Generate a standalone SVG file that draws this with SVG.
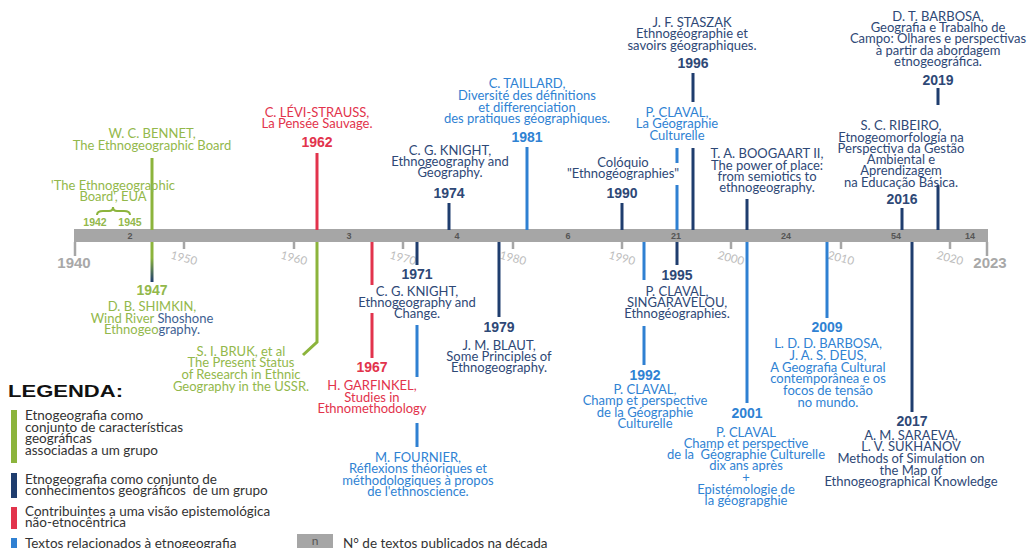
<svg xmlns="http://www.w3.org/2000/svg" width="1033" height="548" viewBox="0 0 1033 548">
<style>
.t{font-family:Lato,"Open Sans",sans-serif;font-size:13px;text-anchor:middle}
.yr{font-family:"Liberation Sans",Arial,sans-serif;font-weight:bold;font-size:14px;text-anchor:middle}
.g{fill:#93b84b}.r{fill:#e2334c}.b{fill:#2f82d3}.n{fill:#2e4876}
.sg{stroke:#8cb43c}.sr{stroke:#e2334c}.sb{stroke:#2f80d2}.sn{stroke:#1f3d6e}
.c path{fill:none;stroke-width:3}
.tk{stroke:#a6a6a6;stroke-width:2.5;fill:none}
.tl{font-family:Lato,sans-serif;font-size:11.5px;fill:#bdbdbd;text-anchor:middle}
.big{font-family:"Liberation Sans",Arial,sans-serif;font-weight:bold;font-size:15px;fill:#a8a8a8;text-anchor:middle}
.dn{font-family:"Liberation Sans",Arial,sans-serif;font-weight:bold;font-size:9px;fill:#555;text-anchor:middle}
.lg{font-family:Lato,"Open Sans",sans-serif;font-size:13.5px;fill:#333}
</style>
<defs>
<linearGradient id="gb" x1="0" y1="242" x2="0" y2="282" gradientUnits="userSpaceOnUse">
<stop offset="0.4" stop-color="#8cb43c"/><stop offset="1" stop-color="#1f3d6e"/>
</linearGradient>
</defs>

<g id="timeline">
<rect x="74" y="229" width="914" height="13" fill="#a6a6a6"/>
<path class="tk" d="M75 242V256M987 242V256M184 242V249M294 242V249M403 242V249M513 242V249M622 242V249M731 242V249M841 242V249M950 242V249"/>
<text class="big" x="74" y="268">1940</text>
<text class="big" x="990" y="268">2023</text>
<text class="tl" x="184" y="262" transform="rotate(15 184 258)">1950</text>
<text class="tl" x="294" y="262" transform="rotate(15 294 258)">1960</text>
<text class="tl" x="403" y="262" transform="rotate(15 403 258)">1970</text>
<text class="tl" x="513" y="262" transform="rotate(15 513 258)">1980</text>
<text class="tl" x="622" y="262" transform="rotate(15 622 258)">1990</text>
<text class="tl" x="731" y="262" transform="rotate(15 731 258)">2000</text>
<text class="tl" x="841" y="262" transform="rotate(15 841 258)">2010</text>
<text class="tl" x="950" y="262" transform="rotate(15 950 258)">2020</text>
<text class="dn" x="130" y="238.5">2</text>
<text class="dn" x="349" y="238.5">3</text>
<text class="dn" x="457" y="238.5">4</text>
<text class="dn" x="568" y="238.5">6</text>
<text class="dn" x="676" y="238.5">21</text>
<text class="dn" x="786" y="238.5">24</text>
<text class="dn" x="896" y="238.5">54</text>
<text class="dn" x="970" y="238.5">14</text>
</g>

<g id="connectors" class="c">
<path class="sg" d="M152 158V230"/>
<path d="M152 242V282" stroke="url(#gb)"/>
<path class="sr" d="M317 153V230"/>
<path class="sg" d="M317 242V342L303 355"/>
<path class="sr" d="M372 242V285M372 313V358"/>
<path class="sn" d="M417 242V265"/>
<path class="sb" d="M417 325V377M417 423V447"/>
<path class="sn" d="M449 203V230"/>
<path class="sn" d="M499 242V317"/>
<path class="sb" d="M527 147V230"/>
<path class="sn" d="M622 203V230"/>
<path class="sb" d="M677 148V163M677 185V230"/>
<path class="sn" d="M693 73V102M693 148V230"/>
<path class="sb" d="M644 242V280M644 326V365"/>
<path class="sn" d="M677 242V265"/>
<path class="sn" d="M747 199V230"/>
<path class="sb" d="M747 242V403"/>
<path class="sb" d="M827 242V318"/>
<path class="sn" d="M902 208V230"/>
<path class="sn" d="M938 88V105M938 185V230"/>
<path class="sn" d="M912 242V412"/>
</g>

<g id="bennet">
<text class="t g" x="152" y="138">W. C. BENNET,</text>
<text class="t g" x="152" y="150">The Ethnogeographic Board</text>
</g>
<g id="board">
<text class="t g" x="113" y="190">'The Ethnogeographic</text>
<text class="t g" x="113" y="201">Board', EUA</text>
<path d="M97 215Q97 211 103 211H109Q113 211 113 207Q113 211 117 211H124Q130 211 130 215" fill="none" stroke="#8cb43c" stroke-width="2"/>
<text class="yr g" x="95" y="226" style="font-size:10.5px">1942</text>
<text class="yr g" x="130" y="226" style="font-size:10.5px">1945</text>
</g>
<g id="shimkin">
<text class="yr g" x="152" y="295">1947</text>
<text class="t g" x="152" y="311">D. B. SHIMKIN,</text>
<text class="t g" x="152" y="323">Wind River <tspan fill="#3e5f92">Shoshone</tspan></text>
<text class="t g" x="152" y="334">Ethnogeo<tspan fill="#3e5f92">graphy.</tspan></text>
</g>
<g id="levi-strauss">
<text class="t r" x="317" y="117">C. LÉVI-STRAUSS,</text>
<text class="t r" x="317" y="128">La Pensée Sauvage.</text>
<text class="yr r" x="317" y="147">1962</text>
</g>
<g id="bruk">
<text class="t g" x="241" y="356">S. I. BRUK, et al</text>
<text class="t g" x="241" y="367">The Present Status</text>
<text class="t g" x="241" y="379">of Research in Ethnic</text>
<text class="t g" x="241" y="391">Geography in the USSR.</text>
</g>
<g id="garfinkel">
<text class="yr r" x="372" y="372">1967</text>
<text class="t r" x="372" y="390">H. GARFINKEL,</text>
<text class="t r" x="372" y="402">Studies in</text>
<text class="t r" x="372" y="413">Ethnomethodology</text>
</g>
<g id="knight1971">
<text class="yr n" x="417" y="279">1971</text>
<text class="t n" x="417" y="296">C. G. KNIGHT,</text>
<text class="t n" x="417" y="307">Ethnogeography and</text>
<text class="t n" x="417" y="318">Change.</text>
</g>
<g id="fournier">
<text class="t b" x="418" y="462">M. FOURNIER,</text>
<text class="t b" x="418" y="473">Réflexions théoriques et</text>
<text class="t b" x="418" y="485">méthodologiques à propos</text>
<text class="t b" x="418" y="496">de l'ethnoscience.</text>
</g>
<g id="knight1974">
<text class="t n" x="450" y="155">C. G. KNIGHT,</text>
<text class="t n" x="450" y="166">Ethnogeography and</text>
<text class="t n" x="450" y="177">Geography.</text>
<text class="yr n" x="449" y="198">1974</text>
</g>
<g id="blaut">
<text class="yr n" x="499" y="332">1979</text>
<text class="t n" x="499" y="350">J. M. BLAUT,</text>
<text class="t n" x="499" y="361">Some Principles of</text>
<text class="t n" x="499" y="372">Ethnogeography.</text>
</g>
<g id="taillard">
<text class="t b" x="527" y="88">C. TAILLARD,</text>
<text class="t b" x="527" y="100">Diversité des définitions</text>
<text class="t b" x="527" y="112">et differenciation</text>
<text class="t b" x="527" y="123">des pratiques géographiques.</text>
<text class="yr b" x="527" y="142">1981</text>
</g>
<g id="coloquio">
<text class="t n" x="623" y="167">Colóquio</text>
<text class="t n" x="623" y="178">"Ethnogéographies"</text>
<text class="yr n" x="622" y="198">1990</text>
</g>
<g id="claval-gc">
<text class="t b" x="677" y="117">P. CLAVAL,</text>
<text class="t b" x="677" y="128">La Géographie</text>
<text class="t b" x="677" y="140">Culturelle</text>
</g>
<g id="claval1992">
<text class="yr b" x="645" y="380">1992</text>
<text class="t b" x="645" y="394">P. CLAVAL,</text>
<text class="t b" x="645" y="405">Champ et perspective</text>
<text class="t b" x="645" y="417">de la Géographie</text>
<text class="t b" x="645" y="428">Culturelle</text>
</g>
<g id="claval1995">
<text class="yr n" x="677" y="280">1995</text>
<text class="t n" x="677" y="296">P. CLAVAL,</text>
<text class="t n" x="677" y="307">SINGARAVELOU,</text>
<text class="t n" x="677" y="318">Ethnogéographies.</text>
</g>
<g id="staszak">
<text class="t n" x="692" y="27">J. F. STASZAK</text>
<text class="t n" x="692" y="38">Ethnogéographie et</text>
<text class="t n" x="692" y="50">savoirs géographiques.</text>
<text class="yr n" x="693" y="68">1996</text>
</g>
<g id="boogaart">
<text class="t n" x="767" y="158">T. A. BOOGAART II,</text>
<text class="t n" x="767" y="170">The power of place:</text>
<text class="t n" x="767" y="181">from semiotics to</text>
<text class="t n" x="767" y="192">ethnogeography.</text>
</g>
<g id="claval2001">
<text class="yr b" x="747" y="418">2001</text>
<text class="t b" x="746" y="437">P. CLAVAL</text>
<text class="t b" x="746" y="448">Champ et perspective</text>
<text class="t b" x="746" y="459" xml:space="preserve">de la  Géographie Culturelle</text>
<text class="t b" x="746" y="470">dix ans après</text>
<text class="t b" x="746" y="482">+</text>
<text class="t b" x="746" y="494">Epistémologie de</text>
<text class="t b" x="746" y="505">la géograpghie</text>
</g>
<g id="barbosa2009">
<text class="yr b" x="827" y="332">2009</text>
<text class="t b" x="828" y="348">L. D. D. BARBOSA,</text>
<text class="t b" x="828" y="360">J. A. S. DEUS,</text>
<text class="t b" x="828" y="372">A Geografia Cultural</text>
<text class="t b" x="828" y="383">contemporânea e os</text>
<text class="t b" x="828" y="395">focos de tensão</text>
<text class="t b" x="828" y="407">no mundo.</text>
</g>
<g id="ribeiro">
<text class="t n" x="901" y="130">S. C. RIBEIRO,</text>
<text class="t n" x="901" y="142">Etnogeomorfologia na</text>
<text class="t n" x="901" y="153">Perspectiva da Gestão</text>
<text class="t n" x="901" y="164">Ambiental e</text>
<text class="t n" x="901" y="175">Aprendizagem</text>
<text class="t n" x="901" y="187">na Educação Básica.</text>
<text class="yr n" x="902" y="204">2016</text>
</g>
<g id="barbosa2019">
<text class="t n" x="938" y="21">D. T. BARBOSA,</text>
<text class="t n" x="938" y="32">Geografia e Trabalho de</text>
<text class="t n" x="938" y="43">Campo: Olhares e perspectivas</text>
<text class="t n" x="938" y="55">à partir da abordagem</text>
<text class="t n" x="938" y="66">etnogeográfica.</text>
<text class="yr n" x="938" y="85">2019</text>
</g>
<g id="saraeva">
<text class="yr n" x="912" y="426">2017</text>
<text class="t n" x="911" y="440">A. M. SARAEVA,</text>
<text class="t n" x="911" y="451">L. V. SUKHANOV</text>
<text class="t n" x="911" y="463">Methods of Simulation on</text>
<text class="t n" x="911" y="475">the Map of</text>
<text class="t n" x="911" y="486">Ethnogeographical Knowledge</text>
</g>

<g id="legend">
<text x="8" y="397" font-family="'Liberation Sans',Arial,sans-serif" font-weight="bold" font-size="17" fill="#111" textLength="115" lengthAdjust="spacingAndGlyphs">LEGENDA:</text>
<rect x="11" y="410" width="6" height="53" fill="#8cb43c"/>
<text class="lg" x="25" y="420">Etnogeografia como</text>
<text class="lg" x="25" y="432">conjunto de características</text>
<text class="lg" x="25" y="443">geográficas</text>
<text class="lg" x="25" y="455">associadas a um grupo</text>
<rect x="11" y="473" width="6" height="25" fill="#1f3d6e"/>
<text class="lg" x="25" y="484">Etnogeografia como conjunto de</text>
<text class="lg" x="25" y="495" xml:space="preserve">conhecimentos geográficos  de um grupo</text>
<rect x="11" y="507" width="6" height="22" fill="#e2334c"/>
<text class="lg" x="25" y="516">Contribuintes a uma visão epistemológica</text>
<text class="lg" x="25" y="527">não-etnocêntrica</text>
<rect x="11" y="538" width="6" height="10" fill="#2f80d2"/>
<text class="lg" x="25" y="548">Textos relacionados à etnogeografia</text>
<rect x="297" y="534" width="36" height="14" fill="#a6a6a6"/>
<text x="315" y="545" font-family="Lato,sans-serif" font-size="12" fill="#555" text-anchor="middle">n</text>
<text class="lg" x="343" y="548">N° de textos publicados na década</text>
</g>
</svg>
